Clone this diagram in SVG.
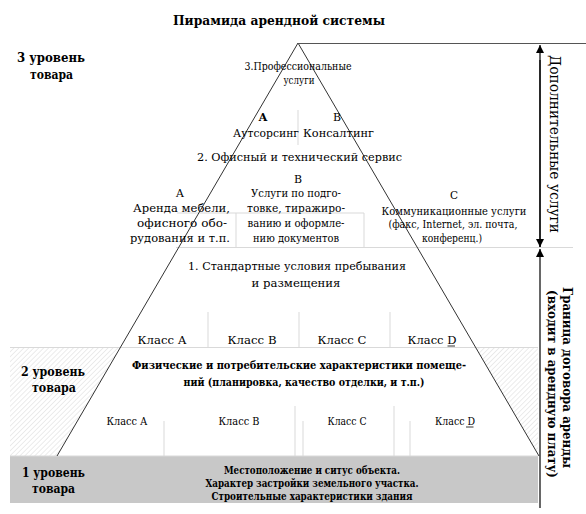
<svg xmlns="http://www.w3.org/2000/svg" width="586" height="514" viewBox="0 0 586 514" font-family="'DejaVu Serif', 'Liberation Serif', serif">
<defs>
<pattern id="hatch" width="3.5" height="3.5" patternUnits="userSpaceOnUse" patternTransform="rotate(45)">
<line x1="0" y1="0" x2="0" y2="3.5" stroke="#d0d0d0" stroke-width="0.8"/>
</pattern>
<marker id="ah" viewBox="0 0 8 10" refX="8" refY="5" markerWidth="8" markerHeight="10" orient="auto" markerUnits="userSpaceOnUse">
<path d="M0,1 L8,5 L0,9 Z" fill="#000"/>
</marker>
</defs>
<style>
text{font-family:'DejaVu Serif','Liberation Serif',serif;fill:#000}
.t{font-size:11px}
.s{font-size:10.5px}
.b{font-weight:bold}
.lvl{font-size:13px;font-weight:bold}
.g{stroke:#d9d9d9;stroke-width:1;fill:none}
.e{stroke:#333;stroke-width:1;fill:none}
.u{stroke:#000;stroke-width:0.8}
</style>
<rect width="586" height="514" fill="#fff"/>

<g id="title"><text x="279" y="25" class="lvl" text-anchor="middle" textLength="212" lengthAdjust="spacingAndGlyphs">Пирамида арендной системы</text></g>

<g id="hatched-zone">
<rect x="10" y="347" width="528" height="109" fill="url(#hatch)"/>
<polygon points="298,43 57,456 539,456" fill="#fff"/>
</g>

<g id="level1-band">
<rect x="10" y="456" width="528" height="47" fill="#c8c8c8"/>
<text x="312" y="474" class="s b" text-anchor="middle" textLength="176" lengthAdjust="spacingAndGlyphs">Местоположение и ситус объекта.</text>
<text x="312" y="487" class="s b" text-anchor="middle" textLength="213" lengthAdjust="spacingAndGlyphs">Характер застройки земельного участка.</text>
<text x="312" y="500" class="s b" text-anchor="middle" textLength="201" lengthAdjust="spacingAndGlyphs">Строительные характеристики здания</text>
</g>

<g id="grid-lines">
<line class="g" x1="298" y1="110" x2="298" y2="145"/>
<line class="g" x1="177" y1="213" x2="364" y2="213"/>
<line class="g" x1="236" y1="213" x2="236" y2="247"/>
<line class="g" x1="364" y1="213" x2="364" y2="247"/>
<line class="g" x1="176" y1="247.5" x2="573" y2="247.5"/>
<line class="g" x1="208" y1="312" x2="208" y2="347"/>
<line class="g" x1="299" y1="312" x2="299" y2="347"/>
<line class="g" x1="390" y1="312" x2="390" y2="347"/>
<line class="g" x1="10" y1="347.5" x2="538" y2="347.5"/>
<line class="g" x1="164" y1="421" x2="164" y2="456"/>
<line class="g" x1="295" y1="406" x2="295" y2="456"/>
<line class="g" x1="303" y1="421" x2="303" y2="456"/>
<line class="g" x1="394" y1="406" x2="394" y2="456"/>
<line class="g" x1="410" y1="421" x2="410" y2="456"/>
<line class="g" x1="10" y1="456" x2="538" y2="456"/>
</g>

<g id="pyramid">
<polyline class="e" points="57,456 298,43 539,456"/>
<line x1="298" y1="43.5" x2="586" y2="43.5" stroke="#555" stroke-width="1"/>
</g>

<g id="level3-label">
<text x="17" y="62" class="lvl" textLength="68" lengthAdjust="spacingAndGlyphs">3 уровень</text>
<text x="30" y="79" class="lvl" textLength="43" lengthAdjust="spacingAndGlyphs">товара</text>
</g>
<g id="level2-label">
<text x="21" y="376" class="lvl" textLength="64" lengthAdjust="spacingAndGlyphs">2 уровень</text>
<text x="32" y="392" class="lvl" textLength="44" lengthAdjust="spacingAndGlyphs">товара</text>
</g>
<g id="level1-label">
<text x="22" y="477" class="lvl" textLength="63" lengthAdjust="spacingAndGlyphs">1 уровень</text>
<text x="32" y="493" class="lvl" textLength="43" lengthAdjust="spacingAndGlyphs">товара</text>
</g>

<g id="prof-services">
<text x="298" y="70" class="s" text-anchor="middle" textLength="107" lengthAdjust="spacingAndGlyphs">3.Профессиональные</text>
<text x="299" y="84" class="s" text-anchor="middle" textLength="31" lengthAdjust="spacingAndGlyphs">услуги</text>
<text x="263" y="121" class="t b" text-anchor="middle">А</text>
<text x="337" y="121" class="t" text-anchor="middle">В</text>
<text x="233" y="137" class="t" textLength="66" lengthAdjust="spacingAndGlyphs">Аутсорсинг</text>
<text x="303" y="137" class="t" textLength="71" lengthAdjust="spacingAndGlyphs">Консалтинг</text>
</g>

<g id="office-services">
<text x="197" y="161" class="t" textLength="205" lengthAdjust="spacingAndGlyphs">2. Офисный и технический сервис</text>
<text x="180" y="197" class="t" text-anchor="middle">А</text>
<text x="133" y="212" class="t" textLength="97" lengthAdjust="spacingAndGlyphs">Аренда мебели,</text>
<text x="137" y="227" class="t" textLength="90" lengthAdjust="spacingAndGlyphs">офисного обо-</text>
<text x="130" y="242" class="t" textLength="100" lengthAdjust="spacingAndGlyphs">рудования и т.п.</text>
<text x="298" y="183" class="t" text-anchor="middle">В</text>
<text x="296" y="197" class="t" text-anchor="middle" textLength="90" lengthAdjust="spacingAndGlyphs">Услуги по подго-</text>
<text x="296" y="212" class="t" text-anchor="middle" textLength="98" lengthAdjust="spacingAndGlyphs">товке, тиражиро-</text>
<text x="296" y="227" class="t" text-anchor="middle" textLength="97" lengthAdjust="spacingAndGlyphs">ванию и оформле-</text>
<text x="296" y="242" class="t" text-anchor="middle" textLength="86" lengthAdjust="spacingAndGlyphs">нию документов</text>
<text x="454" y="199" class="s" text-anchor="middle">С</text>
<text x="454" y="215" class="s" text-anchor="middle" textLength="145" lengthAdjust="spacingAndGlyphs">Коммуникационные услуги</text>
<text x="453" y="228" class="s" text-anchor="middle" textLength="129" lengthAdjust="spacingAndGlyphs">(факс, Internet, эл. почта,</text>
<text x="452" y="242" class="s" text-anchor="middle" textLength="60" lengthAdjust="spacingAndGlyphs">конференц.)</text>
</g>

<g id="standard-conditions">
<text x="297" y="270" class="t" text-anchor="middle" textLength="218" lengthAdjust="spacingAndGlyphs">1. Стандартные условия пребывания</text>
<text x="296" y="287" class="t" text-anchor="middle" textLength="89" lengthAdjust="spacingAndGlyphs">и размещения</text>
<text x="162" y="344" class="s" text-anchor="middle" textLength="49" lengthAdjust="spacingAndGlyphs">Класс  А</text>
<text x="252" y="344" class="s" text-anchor="middle" textLength="49" lengthAdjust="spacingAndGlyphs">Класс  В</text>
<text x="342" y="344" class="s" text-anchor="middle" textLength="49" lengthAdjust="spacingAndGlyphs">Класс  С</text>
<text x="432" y="344" class="s" text-anchor="middle" textLength="49" lengthAdjust="spacingAndGlyphs">Класс  D</text>
<line class="u" x1="447.5" y1="346" x2="455" y2="346"/>
</g>

<g id="physical-characteristics">
<text x="299" y="369" class="s b" text-anchor="middle" textLength="334" lengthAdjust="spacingAndGlyphs">Физические и потребительские характеристики помеще-</text>
<text x="304" y="386" class="s b" text-anchor="middle" textLength="241" lengthAdjust="spacingAndGlyphs">ний (планировка, качество отделки, и т.п.)</text>
<text x="127" y="425" class="s" text-anchor="middle" textLength="41" lengthAdjust="spacingAndGlyphs">Класс А</text>
<text x="239" y="425" class="s" text-anchor="middle" textLength="41" lengthAdjust="spacingAndGlyphs">Класс В</text>
<text x="347" y="425" class="s" text-anchor="middle" textLength="39" lengthAdjust="spacingAndGlyphs">Класс С</text>
<text x="455" y="425" class="s" text-anchor="middle" textLength="40" lengthAdjust="spacingAndGlyphs">Класс D</text>
<line class="u" x1="466" y1="427" x2="473.5" y2="427"/>
</g>

<g id="connectors">
<line x1="540" y1="247" x2="540" y2="45" stroke="#000" stroke-width="1.2" marker-end="url(#ah)"/>
<line x1="540" y1="60" x2="540" y2="247" stroke="#000" stroke-width="1.2" marker-end="url(#ah)"/>
<line x1="540" y1="508" x2="540" y2="249" stroke="#000" stroke-width="1.2" marker-end="url(#ah)"/>
</g>

<g id="side-labels">
<text transform="translate(550,55) rotate(90)" style="font-size:14px" textLength="178" lengthAdjust="spacingAndGlyphs">Дополнительные услуги</text>
<text transform="translate(563,287) rotate(90)" class="b" style="font-size:13px" textLength="181" lengthAdjust="spacingAndGlyphs">Граница договора аренды</text>
<text transform="translate(548,290) rotate(90)" class="b" style="font-size:13px" textLength="188" lengthAdjust="spacingAndGlyphs">(входит в арендную плату)</text>
</g>
</svg>
